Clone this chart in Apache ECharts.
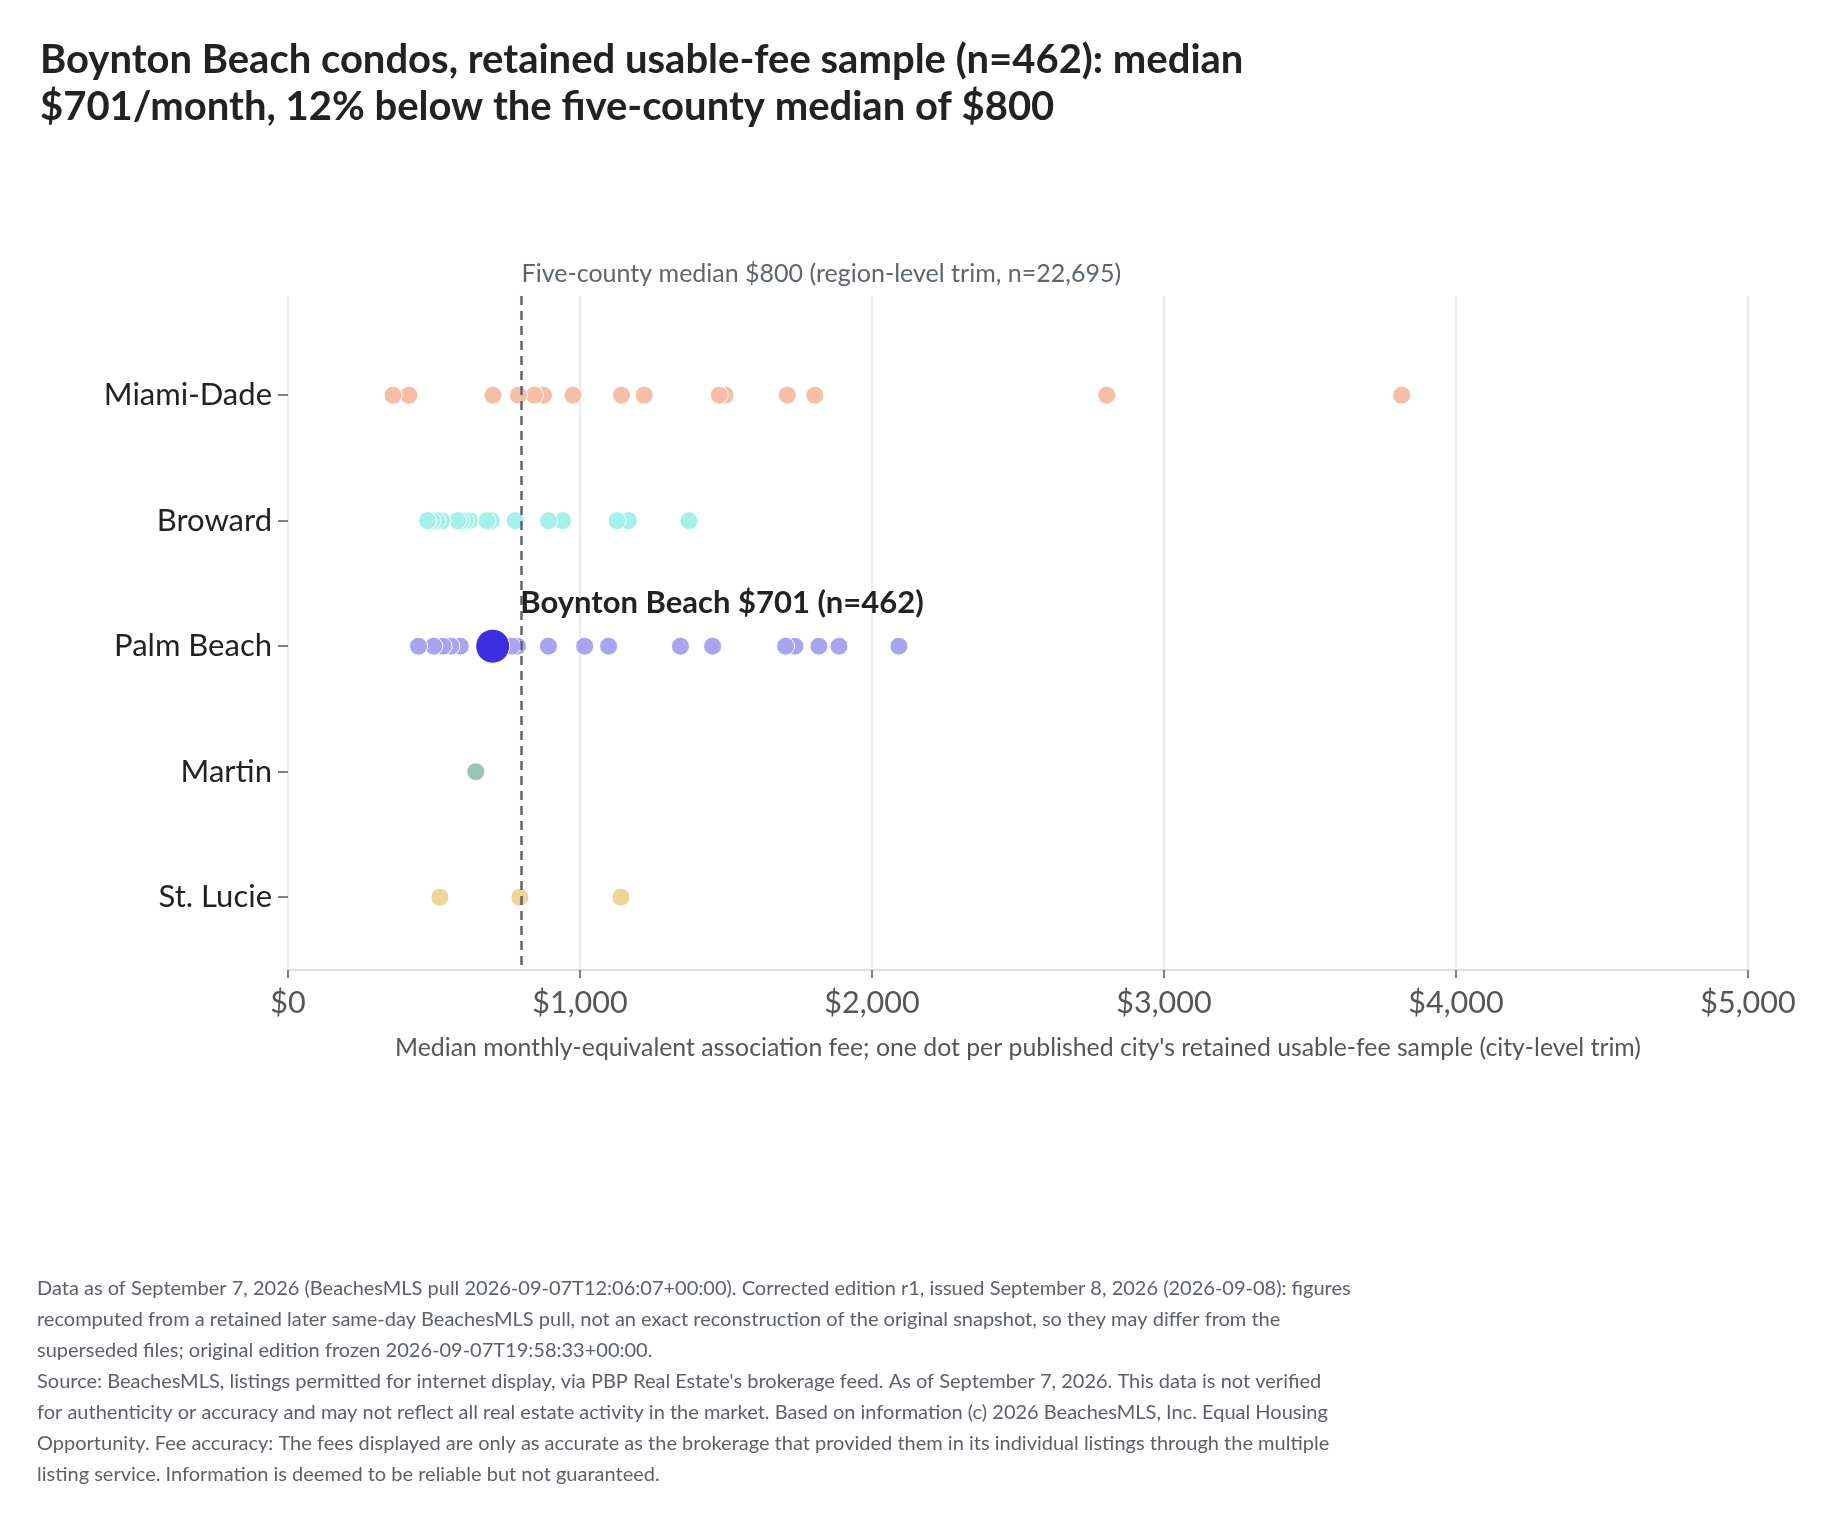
<!DOCTYPE html>
<html>
<head>
<meta charset="utf-8">
<script src="https://cdn.jsdelivr.net/npm/echarts@6/dist/echarts.min.js"></script>
<style>
  html, body { margin: 0; padding: 0; background: #fff; }
  #chart { width: 1830px; height: 1517px; }
</style>
</head>
<body>
<div id="chart"></div>
<script>
// counties, top to bottom
const counties = ['Miami-Dade', 'Broward', 'Palm Beach', 'Martin', 'St. Lucie']

// one value per published city (median monthly fee, $)
const miamiDade = [360, 414, 702, 789, 844, 875, 976, 1142, 1220, 1477, 1497, 1710, 1804, 2804, 3814]
const broward = [478, 493, 510, 527, 581, 593, 607, 621, 681, 696, 778, 892, 940, 1127, 1166, 1373]
const palmBeach = [447, 499, 531, 558, 590, 767, 786, 892, 1016, 1098, 1344, 1454, 1704, 1736, 1818, 1887, 2092]
const martin = [643]
const stLucie = [520, 794, 1140]

const countyValues = [miamiDade, broward, palmBeach, martin, stLucie]
const countyColors = ['#F4BFA6', '#A2F1EB', '#A7A4F1', '#9CC4B5', '#EED596']

const boyntonFee = 701
const boyntonN = 462
const regionMedian = 800
const regionN = '22,695'

const footNote = [
  'Data as of September 7, 2026 (BeachesMLS pull 2026-09-07T12:06:07+00:00). Corrected edition r1, issued September 8, 2026 (2026-09-08): figures',
  'recomputed from a retained later same-day BeachesMLS pull, not an exact reconstruction of the original snapshot, so they may differ from the',
  'superseded files; original edition frozen 2026-09-07T19:58:33+00:00.',
  "Source: BeachesMLS, listings permitted for internet display, via PBP Real Estate's brokerage feed. As of September 7, 2026. This data is not verified",
  'for authenticity or accuracy and may not reflect all real estate activity in the market. Based on information (c) 2026 BeachesMLS, Inc. Equal Housing',
  'Opportunity. Fee accuracy: The fees displayed are only as accurate as the brokerage that provided them in its individual listings through the multiple',
  'listing service. Information is deemed to be reliable but not guaranteed.'
]

const FONT = 'Lato, "Noto Sans", sans-serif'
const money = v => '$' + v.toLocaleString('en-US')

const chart = echarts.init(document.getElementById('chart'))

// dots drawn right-to-left so the left one sits on top
const countySeries = countyValues.map((vals, i) => ({
  type: 'scatter',
  name: counties[i],
  symbolSize: 18,
  itemStyle: { color: countyColors[i], opacity: 1, borderColor: '#fff', borderWidth: 1 },
  emphasis: { disabled: true },
  data: vals.slice().sort((a, b) => b - a).map(v => [v, i]),
  z: 3
}))

const option = {
  backgroundColor: '#fff',
  animation: false,
  title: {
    text: 'Boynton Beach condos, retained usable-fee sample (n=' + boyntonN + '): median\n' +
      money(boyntonFee) + '/month, 12% below the five-county median of ' + money(regionMedian),
    left: 35,
    top: 32,
    textStyle: { fontFamily: FONT, fontSize: 40, fontWeight: 'bold', color: '#222', lineHeight: 47 }
  },
  grid: { left: 288, right: 82, top: 296, bottom: 547, containLabel: false },
  xAxis: {
    type: 'value',
    min: 0,
    max: 5000,
    interval: 1000,
    name: "Median monthly-equivalent association fee; one dot per published city's retained usable-fee sample (city-level trim)",
    nameLocation: 'middle',
    nameGap: 66,
    nameTextStyle: { fontFamily: FONT, fontSize: 24.8, color: '#555' },
    axisLine: { show: true, onZero: false, lineStyle: { color: '#DCDCEC', width: 2 } },
    axisTick: { show: true, length: 8, lineStyle: { color: '#555', width: 1.5 } },
    axisLabel: { fontFamily: FONT, fontSize: 30.5, color: '#555', margin: 18, formatter: v => money(v) },
    splitLine: { show: true, lineStyle: { color: '#E4E4F0', width: 1.5 } }
  },
  yAxis: {
    type: 'value',
    inverse: true,
    min: -0.79,
    max: 4.58,
    axisLine: { show: false },
    axisTick: { show: true, length: 10, customValues: [0, 1, 2, 3, 4], lineStyle: { color: '#555', width: 1.5 } },
    axisLabel: {
      fontFamily: FONT, fontSize: 31, color: '#222', margin: 16,
      customValues: [0, 1, 2, 3, 4],
      formatter: v => counties[Math.round(v)] || ''
    },
    splitLine: { show: false }
  },
  series: countySeries.concat([
    {
      type: 'scatter',
      name: 'Boynton Beach',
      symbolSize: 34,
      itemStyle: { color: '#3A30E2', opacity: 1, borderColor: '#fff', borderWidth: 1 },
      emphasis: { disabled: true },
      data: [[boyntonFee, 2]],
      z: 5,
      label: {
        show: true,
        position: [45, -26],
        align: 'left',
        verticalAlign: 'middle',
        formatter: 'Boynton Beach ' + money(boyntonFee) + ' (n=' + boyntonN + ')',
        fontFamily: FONT,
        fontSize: 31,
        fontWeight: 'bold',
        color: '#222'
      },
      markLine: {
        silent: true,
        symbol: 'none',
        z: 4,
        lineStyle: { color: '#5B6477', type: [9, 6], width: 2.5 },
        label: {
          show: true,
          position: 'start',
          align: 'left',
          distance: 10,
          formatter: 'Five-county median ' + money(regionMedian) + ' (region-level trim, n=' + regionN + ')',
          fontFamily: FONT,
          fontSize: 25,
          color: '#5B6477'
        },
        data: [[{ coord: [regionMedian, -0.79] }, { coord: [regionMedian, 4.58] }]]
      }
    }
  ]),
  graphic: [{
    type: 'text',
    left: 37,
    top: 1273,
    style: {
      text: footNote.join('\n'),
      font: '20px ' + FONT,
      fill: '#5A5F6E',
      lineHeight: 31
    }
  }]
}

chart.setOption(option)
</script>
</body>
</html>
